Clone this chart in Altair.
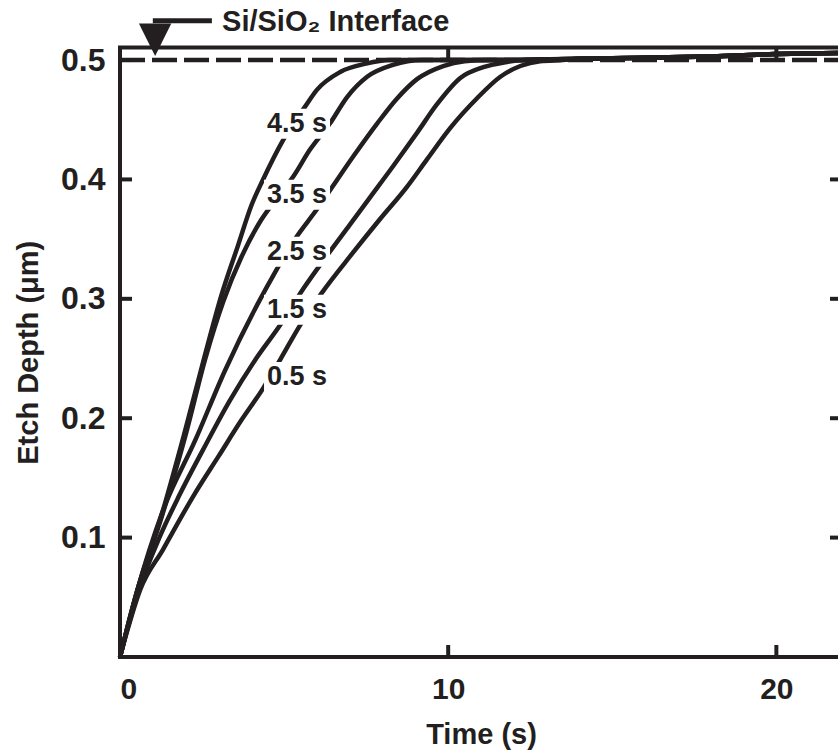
import altair as alt
import pandas as pd

INK = "#231f20"
FONT = "Liberation Sans"

# ---- data (time in s, etch depth in um) ----
t_45 = [0, 0.2, 0.5, 1.28, 1.95, 2.58, 3.08, 3.6, 4.0, 4.36, 4.97, 5.64, 6.0, 6.71, 7.5, 8.2, 10, 12, 14, 16, 18, 20, 22]
d_45 = [0, 0.022, 0.053, 0.12, 0.186, 0.252, 0.302, 0.345, 0.378, 0.400, 0.433, 0.461, 0.475, 0.490, 0.497, 0.5, 0.5, 0.5, 0.501, 0.502, 0.503, 0.505, 0.506]

t_35 = [0, 0.2, 0.5, 1.3, 2.0, 2.6, 3.15, 3.7, 4.3, 4.8, 5.27, 5.79, 6.4, 6.92, 7.53, 8.32, 9.2, 10, 12, 14, 16, 18, 20, 22]
d_35 = [0, 0.022, 0.053, 0.12, 0.186, 0.25, 0.298, 0.335, 0.366, 0.385, 0.402, 0.425, 0.447, 0.469, 0.486, 0.496, 0.5, 0.5, 0.5, 0.501, 0.502, 0.503, 0.505, 0.506]

t_25 = [0, 0.2, 0.5, 1.3, 2.3, 3.2, 4.2, 4.72, 5.33, 6.0, 6.4, 7.1, 7.84, 8.45, 9.05, 9.85, 10.5, 11.2, 12, 14, 16, 18, 20, 22]
d_25 = [0, 0.022, 0.053, 0.122, 0.182, 0.24, 0.296, 0.322, 0.350, 0.375, 0.391, 0.419, 0.447, 0.468, 0.484, 0.495, 0.499, 0.5, 0.5, 0.501, 0.502, 0.503, 0.505, 0.506]

t_15 = [0, 0.2, 0.6, 1.2, 1.8, 2.5, 3.35, 4.1, 4.88, 5.6, 6.3, 7.0, 7.62, 8.32, 9.05, 9.66, 10.37, 11.07, 11.7, 12.3, 14, 16, 18, 20, 22]
d_15 = [0, 0.021, 0.058, 0.1, 0.135, 0.172, 0.215, 0.248, 0.278, 0.309, 0.336, 0.362, 0.385, 0.411, 0.439, 0.463, 0.485, 0.494, 0.498, 0.5, 0.501, 0.502, 0.503, 0.505, 0.506]

t_05 = [0, 0.2, 0.61, 1.31, 2.24, 3.0, 3.69, 4.36, 4.9, 5.49, 6.15, 7.08, 7.9, 8.75, 9.36, 10.06, 10.88, 11.59, 12.2, 12.8, 13.5, 14, 16, 18, 20, 22]
d_05 = [0, 0.02, 0.056, 0.09, 0.135, 0.168, 0.198, 0.225, 0.25, 0.278, 0.305, 0.338, 0.366, 0.394, 0.417, 0.443, 0.468, 0.486, 0.495, 0.499, 0.5, 0.501, 0.502, 0.503, 0.505, 0.506]

series_names = ["4.5 s", "3.5 s", "2.5 s", "1.5 s", "0.5 s"]
series_t = [t_45, t_35, t_25, t_15, t_05]
series_d = [d_45, d_35, d_25, d_15, d_05]

# curve labels (anchor = left edge, vertical middle)
label_text = ["4.5 s", "3.5 s", "2.5 s", "1.5 s", "0.5 s"]
label_t = [4.48, 4.48, 4.48, 4.48, 4.48]
label_d = [0.4467, 0.3872, 0.3394, 0.2908, 0.2346]

interface_depth = 0.5
x_ticks = [0, 10, 20]
y_ticks = [0.1, 0.2, 0.3, 0.4, 0.5]
frame_ticks_x = [10, 20]

# annotation (arrow + text) in data units
arrow_tip_t = 1.07
arrow_center_d = 0.517
arrow_bar_t = [1.0, 2.8]
arrow_bar_d = 0.533
note_t = 3.11
note_d = 0.5246
note_text = "Si/SiO\u2082 Interface"

W, H = 722, 609.5
X_DOMAIN = [0, 22]
Y_DOMAIN = [0, 0.5105]
TICK = 12

rows = []
for name, ts, ds in zip(series_names, series_t, series_d):
    for i, (t, d) in enumerate(zip(ts, ds)):
        rows.append({"series": name, "t": t, "d": d, "order": i})
curves_df = pd.DataFrame(rows)
labels_df = pd.DataFrame({"label": label_text, "t": label_t, "d": label_d})

xs = alt.Scale(domain=X_DOMAIN, nice=False, zero=False)
ys = alt.Scale(domain=Y_DOMAIN, nice=False, zero=False)

lab = dict(labelFont=FONT, labelFontWeight="bold", labelColor=INK,
           titleFont=FONT, titleFontWeight="bold", titleColor=INK)

curves = alt.Chart(curves_df).mark_line(color=INK, strokeWidth=4.5, strokeJoin="round",
                                        interpolate="monotone").encode(
    x=alt.X("t:Q", scale=xs, axis=alt.Axis(values=x_ticks, ticks=False, domain=False, grid=False,
                                            labelFontSize=30, labelPadding=17, title="Time (s)",
                                            titleFontSize=29, titlePadding=16, **lab)),
    y=alt.Y("d:Q", scale=ys, axis=alt.Axis(values=y_ticks, format=".1f", ticks=False, domain=False,
                                            grid=False, labelFontSize=32, labelPadding=15,
                                            title="Etch Depth (\u03bcm)", titleFontSize=29,
                                            titlePadding=17, **lab)),
    detail="series:N",
    order="order:Q",
)

# dashed interface line
dash_df = pd.DataFrame({"t0": [X_DOMAIN[0]], "t1": [X_DOMAIN[1]], "d": [interface_depth]})
dashed = alt.Chart(dash_df).mark_rule(color=INK, strokeWidth=4.5, strokeDash=[25, 7]).encode(
    x=alt.X("t0:Q", scale=xs), x2="t1:Q", y=alt.Y("d:Q", scale=ys),
)

# inward frame ticks
yt_df = pd.DataFrame({"d": y_ticks, "left": [X_DOMAIN[0]] * len(y_ticks), "right": [X_DOMAIN[1]] * len(y_ticks)})
xt_df = pd.DataFrame({"t": frame_ticks_x, "bottom": [Y_DOMAIN[0]] * len(frame_ticks_x), "top": [Y_DOMAIN[1]] * len(frame_ticks_x)})

ticks_left = alt.Chart(yt_df).mark_rule(color=INK, strokeWidth=4, x2Offset=TICK).encode(
    x=alt.X("left:Q", scale=xs), x2="left:Q", y=alt.Y("d:Q", scale=ys))
ticks_right = alt.Chart(yt_df).mark_rule(color=INK, strokeWidth=4, x2Offset=-TICK).encode(
    x=alt.X("right:Q", scale=xs), x2="right:Q", y=alt.Y("d:Q", scale=ys))
ticks_bottom = alt.Chart(xt_df).mark_rule(color=INK, strokeWidth=4, y2Offset=-TICK).encode(
    x=alt.X("t:Q", scale=xs), y=alt.Y("bottom:Q", scale=ys), y2="bottom:Q")
ticks_top = alt.Chart(xt_df).mark_rule(color=INK, strokeWidth=4, y2Offset=TICK).encode(
    x=alt.X("t:Q", scale=xs), y=alt.Y("top:Q", scale=ys), y2="top:Q")

# arrow annotation
bar_df = pd.DataFrame({"t0": [arrow_bar_t[0]], "t1": [arrow_bar_t[1]], "d": [arrow_bar_d]})
bar = alt.Chart(bar_df).mark_rule(color=INK, strokeWidth=5).encode(
    x=alt.X("t0:Q", scale=xs), x2="t1:Q", y=alt.Y("d:Q", scale=ys),
)

head_df = pd.DataFrame({"t": [arrow_tip_t], "d": [arrow_center_d]})
head = alt.Chart(head_df).mark_point(shape="M-1,-1L1,-1L0,1Z", filled=True, size=1050,
                                     color=INK, opacity=1).encode(
    x=alt.X("t:Q", scale=xs), y=alt.Y("d:Q", scale=ys),
)

note_df = pd.DataFrame({"t": [note_t], "d": [note_d], "text": [note_text]})
note = alt.Chart(note_df).mark_text(align="left", baseline="alphabetic", font=FONT, fontSize=29,
                                    fontWeight="bold", color=INK).encode(
    x=alt.X("t:Q", scale=xs), y=alt.Y("d:Q", scale=ys), text="text:N",
)

boxes = alt.Chart(labels_df).mark_rect(color="white", opacity=1, xOffset=-3, x2Offset=63,
                                       yOffset=-15, y2Offset=15).encode(
    x=alt.X("t:Q", scale=xs), x2="t:Q", y=alt.Y("d:Q", scale=ys), y2="d:Q",
)

texts = alt.Chart(labels_df).mark_text(align="left", baseline="middle", font=FONT, fontSize=27,
                                       fontWeight="bold", color=INK).encode(
    x=alt.X("t:Q", scale=xs), y=alt.Y("d:Q", scale=ys), text="label:N",
)

chart = alt.layer(
    curves, dashed, ticks_left, ticks_right, ticks_bottom, ticks_top, bar, head, note, boxes, texts
).properties(
    width=W, height=H,
    autosize=alt.AutoSizeParams(type="none"),
    padding={"left": 120, "top": 47.5, "right": -4, "bottom": 96},
    background="white",
).configure_view(stroke=INK, strokeWidth=4)

chart.save("out.html", embed_options={"renderer": "svg", "actions": False})
